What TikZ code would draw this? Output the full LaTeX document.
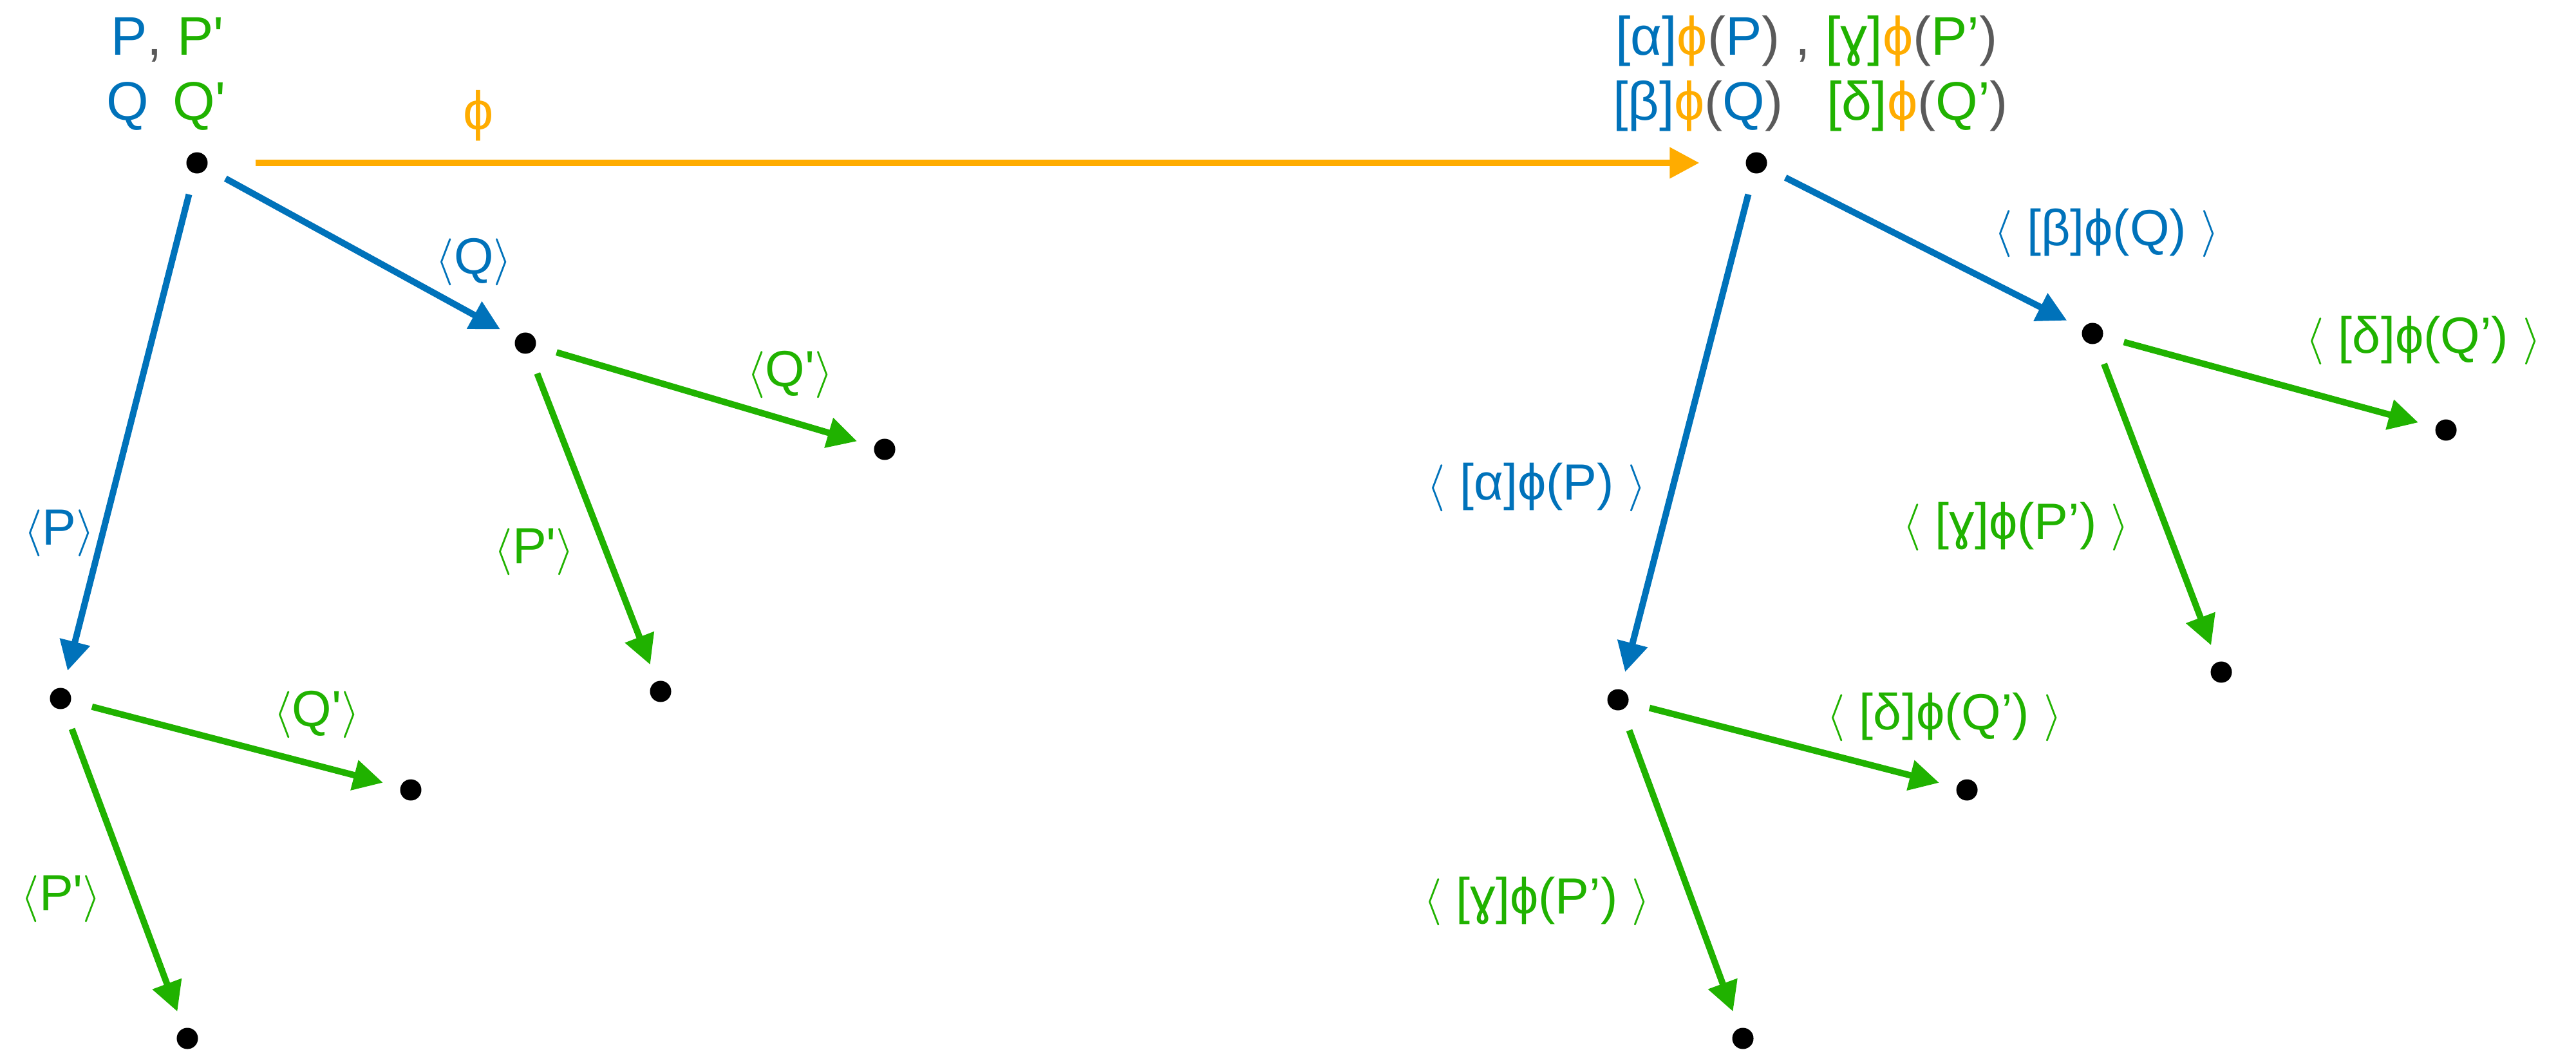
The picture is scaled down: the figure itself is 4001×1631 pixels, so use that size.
\documentclass[tikz,border=0pt]{standalone}
\usepackage{fontspec}
\setmainfont{Liberation Sans}[Ligatures=TeXOff]
\usetikzlibrary{arrows.meta, positioning}
\definecolor{modblue}{HTML}{0072BA}
\definecolor{modgreen}{HTML}{20B200}
\definecolor{maporange}{HTML}{FFAC00}
\definecolor{pargray}{HTML}{5A5A5A}
\newcommand{\angL}{$\langle$}
\newcommand{\angR}{$\rangle$}
\newcommand{\colB}[1]{\textcolor{modblue}{#1}}
\newcommand{\colG}[1]{\textcolor{modgreen}{#1}}
\newcommand{\colO}[1]{\textcolor{maporange}{#1}}
\newcommand{\colD}[1]{\textcolor{pargray}{#1}}
\tikzset{
  pt/.style={circle, fill=black, minimum size=0.33cm, inner sep=0pt, outer sep=0pt},
  edge/.style={line width=0.1cm, -{Triangle[length=0.46cm, width=0.46cm]},
    shorten <=0.34cm, shorten >=0.28cm},
  blueedge/.style={edge, modblue},
  greenedge/.style={edge, modgreen},
  mapedge/.style={edge, maporange, shorten <=0.74cm, shorten >=0.72cm},
  toptext/.style={inner sep=0pt, font=\fontsize{24}{29}\selectfont},
  elabel/.style={inner sep=0pt, font=\fontsize{22.5}{27}\selectfont}
}

\begin{document}
\begin{tikzpicture}[x=0.01cm, y=-0.01cm]
  \useasboundingbox (0,0) rectangle (4001,1631);

  \node[pt] (s0) at (306,253) {};
  \node[pt] (s1) at (94,1085) {};
  \node[pt] (s2) at (816,533) {};
  \node[pt] (s11) at (638,1227) {};
  \node[pt] (s12) at (291,1613) {};
  \node[pt] (s21) at (1374,698) {};
  \node[pt] (s22) at (1026,1074) {};

  \node[pt] (t0) at (2728,253) {};
  \node[pt] (t1) at (2513,1087) {};
  \node[pt] (t2) at (3250,518) {};
  \node[pt] (t11) at (3055,1227) {};
  \node[pt] (t12) at (2707,1613) {};
  \node[pt] (t21) at (3799,668) {};
  \node[pt] (t22) at (3450,1044) {};

  \node[toptext, anchor=base] (srcP) at (260,86) {\colB{P}\colD{,} \colG{P'}};
  \node[toptext, anchor=base] (srcQ) at (258,187) {\colB{Q}\hspace{0.45em}\colG{Q'}};
  \node[toptext, anchor=base] (tgtP) at (2806,86)
    {\colB{[α]}\colO{ϕ}\colD{(}\colB{P}\colD{)} \colD{,} \colG{[ɣ]}\colO{ϕ}\colD{(}\colG{P’}\colD{)}};
  \node[toptext, anchor=base] (tgtQ) at (2812,187)
    {\colB{[β]}\colO{ϕ}\colD{(}\colB{Q}\colD{)}\hspace{0.8em}\colG{[δ]}\colO{ϕ}\colD{(}\colG{Q’}\colD{)}};
  \node[toptext, maporange] (phi) at (743,180) {ϕ};

  \draw[mapedge] (s0) -- (t0);

  \draw[blueedge] (s0) -- (s1);
  \draw[blueedge] (s0) -- (s2);
  \draw[greenedge] (s1) -- (s11);
  \draw[greenedge] (s1) -- (s12);
  \draw[greenedge] (s2) -- (s21);
  \draw[greenedge] (s2) -- (s22);

  \draw[blueedge] (t0) -- (t1);
  \draw[blueedge] (t0) -- (t2);
  \draw[greenedge] (t1) -- (t11);
  \draw[greenedge] (t1) -- (t12);
  \draw[greenedge] (t2) -- (t21);
  \draw[greenedge] (t2) -- (t22);

  \node[elabel, modblue] (lP) at (92,828) {\angL P\angR};
  \node[elabel, modblue] (lQ) at (736,407) {\angL Q\angR};
  \node[elabel, modgreen] (lQQ) at (1227,582) {\angL Q'\angR};
  \node[elabel, modgreen] (lPP) at (830,857) {\angL P'\angR};
  \node[elabel, modgreen] (lPQ) at (492,1110) {\angL Q'\angR};
  \node[elabel, modgreen] (lPPP) at (95,1396) {\angL P'\angR};

  \node[elabel, modblue] (rQ) at (3272,362) {\angL\ [β]ϕ(Q)\ \angR};
  \node[elabel, modgreen] (rQQ) at (3764,529) {\angL\ [δ]ϕ(Q’)\ \angR};
  \node[elabel, modblue] (rP) at (2387,757) {\angL\ [α]ϕ(P)\ \angR};
  \node[elabel, modgreen] (rPP) at (3131,818) {\angL\ [ɣ]ϕ(P’)\ \angR};
  \node[elabel, modgreen] (rPQ) at (3020,1114) {\angL\ [δ]ϕ(Q’)\ \angR};
  \node[elabel, modgreen] (rPPP) at (2387,1400) {\angL\ [ɣ]ϕ(P’)\ \angR};
\end{tikzpicture}
\end{document}
